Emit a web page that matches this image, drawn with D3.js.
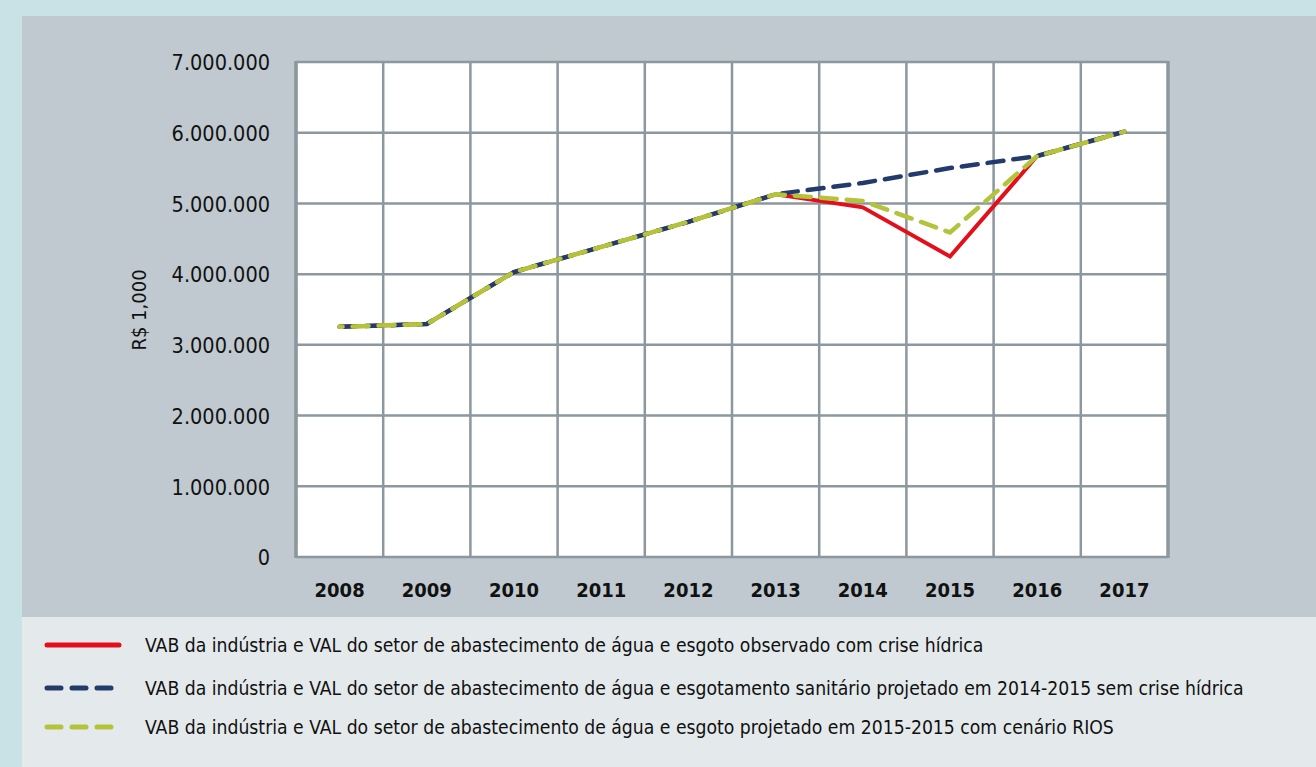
<!DOCTYPE html>
<html><head><meta charset="utf-8">
<script src="https://cdn.jsdelivr.net/npm/d3@7"></script>
<style>
html,body{margin:0;padding:0;background:#c9e2e6;}
svg{display:block;}
text{font-family:"Liberation Sans Narrow","DejaVu Sans Condensed","Liberation Sans",sans-serif;fill:#111;}
</style></head>
<body><svg id="c" width="1316" height="767"></svg>
<script>
const years = ["2008","2009","2010","2011","2012","2013","2014","2015","2016","2017"];
const observed  = [3255000,3295000,4030000,4385000,4740000,5130000,4945000,4250000,5670000,6015000];
const semCrise  = [3255000,3295000,4030000,4385000,4740000,5130000,5290000,5500000,5670000,6015000];
const cenarioRios=[3255000,3295000,4030000,4385000,4740000,5130000,5035000,4590000,5670000,6015000];
const yTicks = [0,1000000,2000000,3000000,4000000,5000000,6000000,7000000];
const yTitle = "R$ 1,000";
const legendLabels = [
 "VAB da indústria e VAL do setor de abastecimento de água e esgoto observado com crise hídrica",
 "VAB da indústria e VAL do setor de abastecimento de água e esgotamento sanitário projetado em 2014-2015 sem crise hídrica",
 "VAB da indústria e VAL do setor de abastecimento de água e esgoto projetado em 2015-2015 com cenário RIOS"
];
const colors = ["#e3101b","#223a6c","#b3c43b"];

const svg = d3.select("#c");
svg.append("rect").attr("x",0).attr("y",0).attr("width",1316).attr("height",767).attr("fill","#c9e2e6");
svg.append("rect").attr("x",22).attr("y",16).attr("width",1294).attr("height",601).attr("fill","#bfc9cf");
svg.append("rect").attr("x",22).attr("y",617).attr("width",1294).attr("height",150).attr("fill","#e4e9eb");

const L=296,R=1168,T=62,B=557;
const x = d3.scaleBand().domain(years).range([L,R]);
const y = d3.scaleLinear().domain([0,7000000]).range([B,T]);
const loc = d3.formatLocale({decimal:",",thousands:".",grouping:[3],currency:["R$",""]});
const fmt = loc.format(",d");

svg.append("rect").attr("x",L).attr("y",T).attr("width",R-L).attr("height",B-T).attr("fill","#fff");
const grid = svg.append("g").attr("stroke","#8c979e").attr("stroke-width",2.5);
yTicks.forEach(t=>grid.append("line").attr("x1",L).attr("x2",R).attr("y1",y(t)).attr("y2",y(t)));
years.forEach(yr=>grid.append("line").attr("x1",x(yr)).attr("x2",x(yr)).attr("y1",T).attr("y2",B));
grid.append("line").attr("x1",R).attr("x2",R).attr("y1",T-1).attr("y2",B+1).attr("stroke-width",3.5);
grid.append("line").attr("x1",L).attr("x2",L).attr("y1",T-1).attr("y2",B+1).attr("stroke-width",3.5);

const yAxis = d3.axisLeft(y).tickValues(yTicks).tickFormat(fmt).tickSize(0).tickPadding(26);
const ya = svg.append("g").attr("transform",`translate(${L},0)`).call(yAxis);
ya.select(".domain").remove();
ya.selectAll("text").attr("font-size",21.5).attr("dy","0.36em").style("letter-spacing","0px");

const xAxis = d3.axisBottom(x).tickSize(0).tickPadding(26);
const xa = svg.append("g").attr("transform",`translate(0,${B})`).call(xAxis);
xa.select(".domain").remove();
xa.selectAll("text").attr("font-size",20).attr("font-weight","bold").attr("dy","0.71em");

svg.append("text").attr("transform","translate(146,310) rotate(-90)").attr("text-anchor","middle")
  .attr("font-size",20).text(yTitle);

const line = d3.line().x((d,i)=>x(years[i])+x.bandwidth()/2).y(d=>y(d));
svg.append("path").datum(observed).attr("d",line).attr("fill","none").attr("stroke",colors[0]).attr("stroke-width",4).attr("stroke-linejoin","miter");
svg.append("path").datum(semCrise).attr("d",line).attr("fill","none").attr("stroke",colors[1]).attr("stroke-width",4.5).attr("stroke-dasharray","16,10").attr("stroke-linecap","round");
svg.append("path").datum(cenarioRios).attr("d",line).attr("fill","none").attr("stroke",colors[2]).attr("stroke-width",4.5).attr("stroke-dasharray","16,10").attr("stroke-dashoffset",13).attr("stroke-linecap","round");

const ly=[645,688,727];
legendLabels.forEach((lab,i)=>{
  const g = svg.append("g");
  g.append("line").attr("x1",47).attr("x2",119).attr("y1",ly[i]).attr("y2",ly[i])
   .attr("stroke",colors[i]).attr("stroke-width",5).attr("stroke-linecap","round")
   .attr("stroke-dasharray", i===0?null:"14,11");
  g.append("text").attr("x",145).attr("y",ly[i]).attr("dy","0.36em").attr("font-size",19.2).text(lab);
});
</script></body></html>
